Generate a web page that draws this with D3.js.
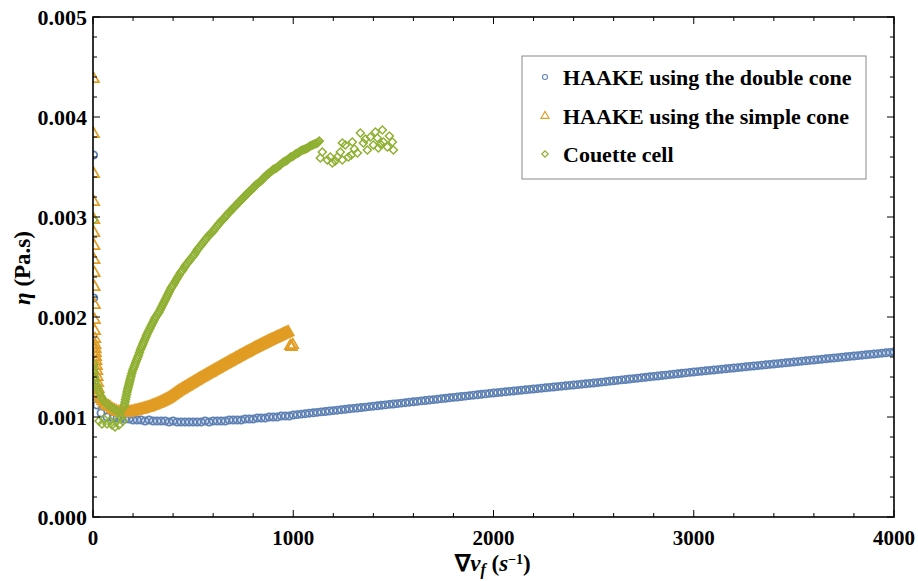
<!DOCTYPE html>
<html><head><meta charset="utf-8">
<script src="https://cdn.jsdelivr.net/npm/d3@7"></script>
<style>body{margin:0;background:#fff}svg{display:block}</style>
</head><body><svg id="c" width="918" height="581"></svg>
<script>
// ---- data ----
const xTicks = [0, 1000, 2000, 3000, 4000];
const yTicks = [0.000, 0.001, 0.002, 0.003, 0.004, 0.005];
const seriesNames = ["HAAKE using the double cone", "HAAKE using the simple cone", "Couette cell"];

// HAAKE double cone: [shear rate, viscosity]
const doubleConeLow = [
[3,0.00362],[4,0.00219],[5,0.00169],[6,0.0014],[8,0.0013],[12,0.00121],[20,0.00112],[40,0.00104],[70,0.001],[100,0.00099],[120,0.00099],
[140,0.00099],[160,0.00098],[180,0.00098],[200,0.00097],[220,0.00097],[240,0.00097],[260,0.00096],[280,0.00097],[300,0.00096],
[320,0.00096],[340,0.00096],[360,0.00096],[380,0.00095],[400,0.00096],[420,0.00095],[440,0.00095],[460,0.00095],[480,0.00095],
[500,0.00095],[520,0.00095],[540,0.00095],[560,0.00096],[580,0.00095],[600,0.00096],[620,0.00096],[640,0.00096],[660,0.00096],
[680,0.00097],[700,0.00097],[720,0.00097],[740,0.00097],[760,0.00098],[780,0.00098],[800,0.00098],[820,0.00099],[840,0.00099],
[860,0.00099],[880,0.00100],[900,0.00100],[920,0.00100],[940,0.00101],[960,0.00101],[980,0.00101]
];
const doubleConeHigh = [
[1000,0.001020],[1020,0.001024],[1040,0.001029],[1060,0.001033],[1080,0.001038],[1100,0.001042],[1120,0.001046],[1140,0.001051],
[1160,0.001055],[1180,0.001060],[1200,0.001064],[1220,0.001068],[1240,0.001073],[1260,0.001077],[1280,0.001082],[1300,0.001086],
[1320,0.001090],[1340,0.001095],[1360,0.001099],[1380,0.001104],[1400,0.001108],[1420,0.001112],[1440,0.001117],[1460,0.001121],
[1480,0.001126],[1500,0.001130],[1520,0.001134],[1540,0.001139],[1560,0.001143],[1580,0.001148],[1600,0.001152],[1620,0.001156],
[1640,0.001161],[1660,0.001165],[1680,0.001170],[1700,0.001174],[1720,0.001178],[1740,0.001183],[1760,0.001187],[1780,0.001192],
[1800,0.001196],[1820,0.001200],[1840,0.001205],[1860,0.001209],[1880,0.001214],[1900,0.001218],[1920,0.001222],[1940,0.001227],
[1960,0.001231],[1980,0.001236],[2000,0.001240],[2020,0.001244],[2040,0.001248],[2060,0.001252],[2080,0.001256],[2100,0.001260],
[2120,0.001264],[2140,0.001268],[2160,0.001272],[2180,0.001276],[2200,0.001280],[2220,0.001284],[2240,0.001288],[2260,0.001292],
[2280,0.001296],[2300,0.001300],[2320,0.001304],[2340,0.001308],[2360,0.001312],[2380,0.001316],[2400,0.001320],[2420,0.001324],
[2440,0.001328],[2460,0.001332],[2480,0.001336],[2500,0.001340],[2520,0.001344],[2540,0.001349],[2560,0.001353],[2580,0.001358],
[2600,0.001362],[2620,0.001366],[2640,0.001371],[2660,0.001375],[2680,0.001380],[2700,0.001384],[2720,0.001388],[2740,0.001393],
[2760,0.001397],[2780,0.001402],[2800,0.001406],[2820,0.001410],[2840,0.001415],[2860,0.001419],[2880,0.001424],[2900,0.001428],
[2920,0.001432],[2940,0.001437],[2960,0.001441],[2980,0.001446],[3000,0.001450],[3020,0.001454],[3040,0.001458],[3060,0.001462],
[3080,0.001466],[3100,0.001470],[3120,0.001474],[3140,0.001478],[3160,0.001482],[3180,0.001486],[3200,0.001490],[3220,0.001494],
[3240,0.001498],[3260,0.001502],[3280,0.001506],[3300,0.001510],[3320,0.001514],[3340,0.001518],[3360,0.001522],[3380,0.001526],
[3400,0.001530],[3420,0.001534],[3440,0.001538],[3460,0.001542],[3480,0.001546],[3500,0.001550],[3520,0.001554],[3540,0.001558],
[3560,0.001562],[3580,0.001566],[3600,0.001570],[3620,0.001574],[3640,0.001578],[3660,0.001582],[3680,0.001586],[3700,0.001590],
[3720,0.001594],[3740,0.001598],[3760,0.001602],[3780,0.001606],[3800,0.001610],[3820,0.001614],[3840,0.001618],[3860,0.001622],
[3880,0.001626],[3900,0.001630],[3920,0.001634],[3940,0.001638],[3960,0.001642],[3980,0.001646],[4000,0.001650],[4020,0.001654]
];

// HAAKE simple cone
const simpleConeLow = [
[3,0.00438],[3,0.00383],[4,0.00343],[4,0.00315],[5,0.00297],[5,0.00284],[6,0.00271],[6,0.00257],[7,0.00244],[7,0.0023],
[8,0.00212],[8,0.00197],[9,0.00186],[10,0.00178],[11,0.00172],[12,0.00168],[13,0.00164],[14,0.0016],[16,0.00156],[18,0.00151],
[20,0.00146],[22,0.0014],[24,0.00134],[27,0.00128],[30,0.00124],[35,0.0012],[40,0.00118],[47,0.00116],[55,0.00114],[65,0.00112],
[75,0.00111],[85,0.0011],[95,0.00108],[105,0.00107],[115,0.00106],[125,0.00105],[135,0.00105],[145,0.00104]
];
const simpleConeHigh = [
[150,0.001040],[155,0.001040],[160,0.001040],[165,0.001040],[170,0.001042],[175,0.001044],[180,0.001046],[185,0.001048],
[190,0.001050],[195,0.001052],[200,0.001054],[205,0.001057],[210,0.001060],[215,0.001062],[220,0.001064],[225,0.001067],
[230,0.001070],[235,0.001072],[240,0.001074],[245,0.001077],[250,0.001080],[255,0.001083],[260,0.001086],[265,0.001089],
[270,0.001092],[275,0.001095],[280,0.001098],[285,0.001102],[290,0.001106],[295,0.001110],[300,0.001114],[305,0.001118],
[310,0.001122],[315,0.001126],[320,0.001130],[325,0.001134],[330,0.001138],[335,0.001143],[340,0.001148],[345,0.001153],
[350,0.001158],[355,0.001163],[360,0.001168],[365,0.001173],[370,0.001178],[375,0.001184],[380,0.001190],[385,0.001197],
[390,0.001204],[395,0.001211],[400,0.001218],[405,0.001226],[410,0.001233],[415,0.001240],[420,0.001247],[425,0.001254],
[430,0.001260],[435,0.001266],[440,0.001272],[445,0.001278],[450,0.001284],[455,0.001290],[460,0.001296],[465,0.001302],
[470,0.001308],[475,0.001314],[480,0.001320],[485,0.001326],[490,0.001332],[495,0.001338],[500,0.001344],[505,0.001350],
[510,0.001356],[515,0.001362],[520,0.001368],[525,0.001374],[530,0.001380],[535,0.001386],[540,0.001392],[545,0.001397],
[550,0.001403],[555,0.001409],[560,0.001414],[565,0.001420],[570,0.001426],[575,0.001431],[580,0.001437],[585,0.001443],
[590,0.001448],[595,0.001454],[600,0.001460],[605,0.001465],[610,0.001471],[615,0.001477],[620,0.001482],[625,0.001488],
[630,0.001494],[635,0.001499],[640,0.001505],[645,0.001511],[650,0.001516],[655,0.001522],[660,0.001528],[665,0.001533],
[670,0.001539],[675,0.001544],[680,0.001550],[685,0.001555],[690,0.001561],[695,0.001566],[700,0.001572],[705,0.001577],
[710,0.001583],[715,0.001588],[720,0.001594],[725,0.001599],[730,0.001605],[735,0.001610],[740,0.001616],[745,0.001621],
[750,0.001627],[755,0.001632],[760,0.001638],[765,0.001643],[770,0.001648],[775,0.001653],[780,0.001659],[785,0.001664],
[790,0.001669],[795,0.001674],[800,0.001680],[805,0.001685],[810,0.001690],[815,0.001695],[820,0.001700],[825,0.001705],
[830,0.001710],[835,0.001715],[840,0.001720],[845,0.001725],[850,0.001730],[855,0.001735],[860,0.001740],[865,0.001745],
[870,0.001750],[875,0.001755],[880,0.001760],[885,0.001765],[890,0.001770],[895,0.001774],[900,0.001779],[905,0.001784],
[910,0.001788],[915,0.001793],[920,0.001798],[925,0.001802],[930,0.001807],[935,0.001812],[940,0.001816],[945,0.001821],
[950,0.001826],[955,0.001830],[960,0.001835],[965,0.001839],[970,0.001844],[975,0.001849],
[985,0.00171],[992,0.00170],[998,0.00172]
];

// Couette cell
const couetteLow = [
[3,0.00297],[4,0.00153],[5,0.00148],[6,0.00144],[8,0.0014],[12,0.00136],[18,0.00132],[25,0.00128],[33,0.00124],[42,0.0012],
[52,0.00117],[62,0.00114],[75,0.00112],[90,0.0011],[105,0.00108],[120,0.00106],[135,0.00104],
[30,0.00096],[45,0.00093],[55,0.00098],[70,0.00093],[85,0.00096],[95,0.00092],[110,0.0009],[120,0.00096],[130,0.00092],
[140,0.001],[150,0.00096]
];
const couetteRise = [
[155,0.00110],[157.5,0.001125],[160,0.00115],[162.5,0.001175],[165,0.0012],[167.5,0.001225],[170,0.00125],[172.5,0.00127],
[175,0.00129],[177.5,0.00131],[180,0.00133],[182.5,0.00135],[185,0.00137],[187.5,0.00139],[190,0.00141],[193.5,0.001435],
[197,0.00146],[201,0.00148],[205,0.0015],[208.5,0.00152],[212,0.00154],[216,0.00156],[220,0.00158],[224,0.0016],[228,0.00162],
[232,0.001645],[236,0.00167],[240.5,0.00169],[245,0.00171],[249,0.00173],[253,0.00175],[257.5,0.00177],[262,0.00179],
[266,0.00181],[270,0.00183],[275,0.00185],[280,0.00187],[285,0.00189],[290,0.00191],[295,0.00193],[300,0.00195],[305,0.00197],
[310,0.00199],[315,0.002005],[320,0.00202],[325,0.002035],[330,0.00205],[335,0.00207],[340,0.00209],[345,0.00211],[350,0.00213],
[355,0.00215],[360,0.00217],[365,0.00219],[370,0.00221],[375,0.00223],[380,0.00225],[385,0.00227],[390,0.00229],[395,0.002305],
[400,0.00232]
];
const couetteHigh = [
[406,0.00234],[412,0.00236],[418,0.00238],[424,0.0024],[430,0.00242],[436,0.00244],[442,0.002455],[448,0.00247],[454,0.00249],
[460,0.00251],[466,0.002525],[472,0.00254],[478,0.002555],[484,0.00257],[490,0.002585],[496,0.0026],[502,0.002615],[508,0.00263],
[514,0.00265],[520,0.00267],[526,0.002685],[532,0.0027],[538,0.002715],[544,0.00273],[550,0.002745],[556,0.00276],[562,0.002775],
[568,0.00279],[574,0.002805],[580,0.00282],[586,0.00283],[592,0.00284],[598,0.002855],[604,0.00287],[610,0.002885],[616,0.0029],
[622,0.002915],[628,0.00293],[634,0.002945],[640,0.00296],[646,0.00297],[652,0.00298],[658,0.002995],[664,0.00301],[670,0.003025],
[676,0.00304],[682,0.00305],[688,0.00306],[694,0.003075],[700,0.00309],[706,0.0031],[712,0.00311],[718,0.003125],[724,0.00314],
[730,0.00315],[736,0.00316],[742,0.003175],[748,0.00319],[754,0.0032],[760,0.00321],[766,0.003225],[772,0.00324],[778,0.00325],
[784,0.00326],[790,0.00327],[796,0.00328],[802,0.003295],[808,0.00331],[814,0.00332],[820,0.00333],[826,0.00334],[832,0.00335],
[838,0.00336],[844,0.00337],[850,0.003385],[856,0.0034],[862,0.00341],[868,0.00342],[874,0.00343],[880,0.00344],[886,0.00345],
[892,0.00346],[898,0.00347],[904,0.00348],[910,0.003485],[916,0.00349],[922,0.0035],[928,0.00351],[934,0.00352],[940,0.00353],
[946,0.00354],[952,0.00355],[958,0.003555],[964,0.00356],[970,0.00357],[976,0.00358],[982,0.00359],[988,0.0036],[994,0.003605],
[1000,0.00361],[1006,0.00362],[1012,0.00363],[1018,0.003635],[1024,0.00364],[1030,0.00365],[1036,0.00366],[1042,0.003665],
[1048,0.00367],[1054,0.003675],[1060,0.00368],[1066,0.003685],[1072,0.00369],[1078,0.0037],[1084,0.00371],[1090,0.003715],
[1096,0.00372],[1102,0.003725],[1108,0.00373],[1114,0.003735],[1120,0.00374],[1125,0.00375],[1130,0.00376]
];
const couetteScatter = [
[1145,0.00365],[1135,0.00359],[1170,0.00357],[1185,0.0036],[1195,0.00354],[1220,0.0036],[1235,0.00365],[1245,0.00357],
[1245,0.00374],[1260,0.00372],[1275,0.0036],[1295,0.00375],[1320,0.00364],[1335,0.00384],[1350,0.00374],[1370,0.00367],
[1385,0.0038],[1400,0.00372],[1410,0.00385],[1420,0.00379],[1425,0.00369],[1445,0.00387],[1450,0.00375],[1470,0.0037],
[1495,0.00375],[1500,0.00367],[1210,0.00356],[1290,0.00362],[1305,0.00368],[1360,0.00378],[1435,0.00373],[1480,0.00381]
];

const colors = ["#5E81B5", "#E19C24", "#8FB032"];
const series = [
  doubleConeLow.concat(doubleConeHigh),
  simpleConeLow.concat(simpleConeHigh),
  couetteLow.concat(couetteRise, couetteHigh, couetteScatter)
];

// ---- layout ----
const svg = d3.select("#c");
const L = 93, R = 894, T = 17, B = 517;
const x = d3.scaleLinear().domain([0, 4000]).range([L, R]);
const y = d3.scaleLinear().domain([0, 0.005]).range([B, T]);
const serif = "'Liberation Serif','Times New Roman',serif";

svg.append("defs").append("clipPath").attr("id","clip")
  .append("rect").attr("x",L).attr("y",T).attr("width",R-L).attr("height",B-T);

const markers = [
  {path: d3.symbol().type(d3.symbolCircle).size(40)(), rot: 0, sw: 1.8, ls: 0.7},
  {path: d3.symbol().type(d3.symbolTriangle).size(50)(), rot: 0, sw: 1.7, ls: 0.75},
  {path: d3.symbol().type(d3.symbolSquare).size(32)(), rot: 45, sw: 1.5, ls: 0.8}
];

const plot = svg.append("g").attr("clip-path","url(#clip)");
series.forEach((data, i) => {
  const m = markers[i];
  plot.append("g").selectAll("path").data(data).join("path")
    .attr("d", m.path)
    .attr("transform", d => `translate(${x(d[0])},${y(d[1])}) rotate(${m.rot})`)
    .attr("fill", "none").attr("stroke", colors[i]).attr("stroke-width", m.sw);
});

// ---- frame & ticks ----
svg.append("rect").attr("x",L).attr("y",T).attr("width",R-L).attr("height",B-T)
  .attr("fill","none").attr("stroke","#000").attr("stroke-width",1.6);

const tickG = svg.append("g").attr("stroke","#000").attr("stroke-width",1);
const xMinor = d3.range(0, 4001, 200);
xMinor.forEach(v => {
  const len = (v % 1000 === 0) ? 7 : 4;
  tickG.append("line").attr("x1",x(v)).attr("x2",x(v)).attr("y1",B).attr("y2",B-len);
  tickG.append("line").attr("x1",x(v)).attr("x2",x(v)).attr("y1",T).attr("y2",T+len);
});
const yMinor = d3.range(0, 26).map(k => k * 0.0002);
yMinor.forEach((v, k) => {
  const len = (k % 5 === 0) ? 7 : 4;
  tickG.append("line").attr("y1",y(v)).attr("y2",y(v)).attr("x1",L).attr("x2",L+len);
  tickG.append("line").attr("y1",y(v)).attr("y2",y(v)).attr("x1",R).attr("x2",R-len);
});

// tick labels
const fmtY = d3.format(".3f");
svg.append("g").selectAll("text").data(yTicks).join("text")
  .attr("x", L - 6).attr("y", d => y(d)).attr("dy","0.35em")
  .attr("text-anchor","end").attr("font-family",serif).attr("font-weight","bold")
  .attr("font-size",22).text(d => fmtY(d));
svg.append("g").selectAll("text").data(xTicks).join("text")
  .attr("x", d => x(d)).attr("y", B + 28)
  .attr("text-anchor","middle").attr("font-family",serif).attr("font-weight","bold")
  .attr("font-size",21).text(d => d);

// axis titles
const xt = svg.append("text").attr("x", 493).attr("y", 571).attr("text-anchor","middle")
  .attr("font-family",serif).attr("font-weight","bold").attr("font-size",23);
xt.append("tspan").text("∇");
xt.append("tspan").attr("font-style","italic").text("v");
xt.append("tspan").attr("font-style","italic").attr("font-size",16).attr("dy",4).text("f");
xt.append("tspan").attr("dy",-4).text(" (");
xt.append("tspan").attr("font-style","italic").text("s");
xt.append("tspan").attr("font-size",14).attr("dy",-7).text("−1");
xt.append("tspan").attr("dy",7).text(")");

const yt = svg.append("text").attr("transform","translate(30,268) rotate(-90)").attr("text-anchor","middle")
  .attr("font-family",serif).attr("font-weight","bold").attr("font-size",23);
yt.append("tspan").attr("font-style","italic").text("η");
yt.append("tspan").text(" (Pa.s)");

// ---- legend ----
const lg = svg.append("g");
lg.append("rect").attr("x",522).attr("y",56).attr("width",344).attr("height",123)
  .attr("fill","#fff").attr("stroke","#888").attr("stroke-width",1);
const rowsY = [77, 116, 154];
seriesNames.forEach((n, i) => {
  const m = markers[i];
  lg.append("path").attr("d", m.path)
    .attr("transform", `translate(545,${rowsY[i]}) rotate(${m.rot}) scale(${m.ls})`)
    .attr("fill","none").attr("stroke",colors[i]).attr("stroke-width",1.5);
  lg.append("text").attr("x",563).attr("y",rowsY[i]).attr("dy","0.35em")
    .attr("font-family",serif).attr("font-weight","bold").attr("font-size",22).text(n);
});
</script></body></html>
